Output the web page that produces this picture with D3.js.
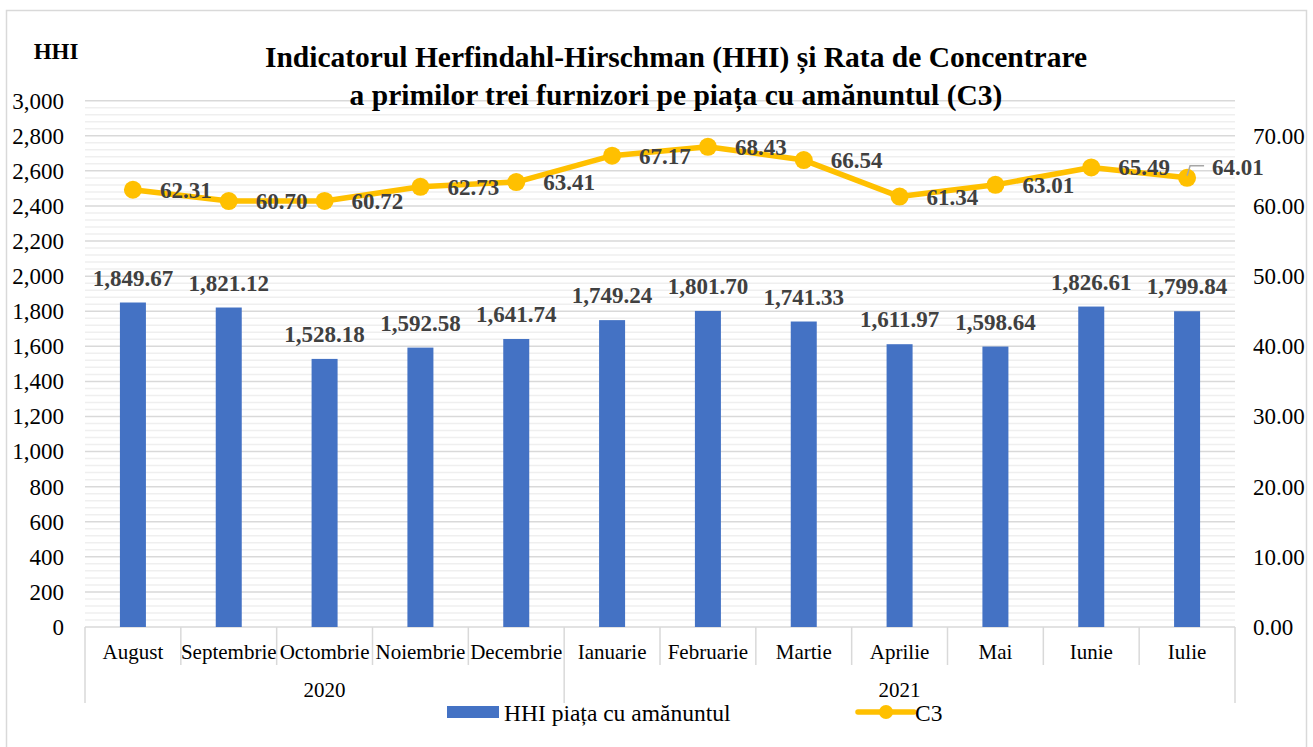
<!DOCTYPE html>
<html>
<head>
<meta charset="utf-8">
<script src="https://cdn.jsdelivr.net/npm/d3@7"></script>
<style>
  body { margin: 0; background: #fff; }
  svg text { font-family: "Liberation Serif", "Times New Roman", serif !important; }
</style>
</head>
<body>
<div id="cht_HHI"></div>
<script>
const months = ["August", "Septembrie", "Octombrie", "Noiembrie", "Decembrie", "Ianuarie",
  "Februarie", "Martie", "Aprilie", "Mai", "Iunie", "Iulie"];
const years = [
  { year: "2020", first: 0, last: 4 },
  { year: "2021", first: 5, last: 11 },
];
const hhiValues = [1849.67, 1821.12, 1528.18, 1592.58, 1641.74, 1749.24,
  1801.70, 1741.33, 1611.97, 1598.64, 1826.61, 1799.84];
const c3Values = [62.31, 60.70, 60.72, 62.73, 63.41, 67.17,
  68.43, 66.54, 61.34, 63.01, 65.49, 64.01];
const hhiTicks = d3.range(0, 3001, 200);
const c3Ticks = d3.range(0, 71, 10);

const width = 1313, height = 747;
const margin = { top: 100.7, right: 78, bottom: 120, left: 85 };
const plotBottom = 627;

const data = months.map((m, i) => ({ month: m, hhi: hhiValues[i], c3: c3Values[i] }));

var svg = d3
  .select("#cht_HHI")
  .append("svg")
  .attr("width", width)
  .attr("height", height);

// chart border
svg
  .append("rect")
  .attr("x", 6.5)
  .attr("y", 10.5)
  .attr("width", 1300)
  .attr("height", 740)
  .attr("fill", "#fff")
  .attr("stroke", "#d9d9d9")
  .attr("stroke-width", 1.5);

var x = d3
  .scaleBand()
  .domain(months)
  .range([margin.left, width - margin.right]);

var y = d3.scaleLinear().domain([0, 3000]).range([plotBottom, margin.top]);
var y2 = d3.scaleLinear().domain([0, 75]).range([plotBottom, margin.top]);

// minor gridlines every 40, major every 200
svg
  .append("g")
  .selectAll("line")
  .data(d3.range(40, 3001, 40).filter((v) => v % 200 !== 0))
  .enter()
  .append("line")
  .attr("x1", margin.left)
  .attr("x2", width - margin.right)
  .attr("y1", (d) => y(d))
  .attr("y2", (d) => y(d))
  .attr("stroke", "#efefef")
  .attr("stroke-width", 1.5);

svg
  .append("g")
  .selectAll("line")
  .data(hhiTicks.filter((v) => v > 0))
  .enter()
  .append("line")
  .attr("x1", margin.left)
  .attr("x2", width - margin.right)
  .attr("y1", (d) => y(d))
  .attr("y2", (d) => y(d))
  .attr("stroke", "#d9d9d9")
  .attr("stroke-width", 1.5);

// left axis
var yAxis = d3.axisLeft(y).tickValues(hhiTicks).tickFormat(d3.format(",")).tickSize(0).tickPadding(21);
svg
  .append("g")
  .attr("transform", `translate(${margin.left},0)`)
  .call(yAxis)
  .call((g) => g.select(".domain").remove())
  .selectAll("text")
  .attr("font-size", "23px")
  .attr("fill", "#000");

// right axis
var yAxisR = d3.axisRight(y2).tickValues(c3Ticks).tickFormat(d3.format(".2f")).tickSize(0).tickPadding(18);
svg
  .append("g")
  .attr("transform", `translate(${width - margin.right},0)`)
  .call(yAxisR)
  .call((g) => g.select(".domain").remove())
  .selectAll("text")
  .attr("font-size", "23px")
  .attr("fill", "#000");

svg
  .append("text")
  .attr("x", 56)
  .attr("y", 59)
  .attr("text-anchor", "middle")
  .attr("font-size", "23px")
  .attr("font-weight", "bold")
  .text("HHI");

// title
const title = svg
  .append("text")
  .attr("text-anchor", "middle")
  .attr("font-size", "29.5px")
  .attr("font-weight", "bold")
  .attr("fill", "#000");
title.append("tspan").attr("x", 676).attr("y", 67).text("Indicatorul Herfindahl-Hirschman (HHI) și Rata de Concentrare");
title.append("tspan").attr("x", 676).attr("y", 105).text("a primilor trei furnizori pe piața cu amănuntul (C3)");

// category axis (two levels)
const axisG = svg.append("g");
axisG
  .append("line")
  .attr("x1", margin.left)
  .attr("x2", width - margin.right)
  .attr("y1", plotBottom)
  .attr("y2", plotBottom)
  .attr("stroke", "#d9d9d9")
  .attr("stroke-width", 1.5);

const yearBounds = [0].concat(years.map((d) => d.last + 1));
axisG
  .selectAll(".sep")
  .data(d3.range(0, months.length + 1))
  .enter()
  .append("line")
  .attr("class", "sep")
  .attr("x1", (i) => margin.left + i * x.step())
  .attr("x2", (i) => margin.left + i * x.step())
  .attr("y1", plotBottom)
  .attr("y2", (i) => (yearBounds.includes(i) ? 703 : 665))
  .attr("stroke", "#d9d9d9")
  .attr("stroke-width", 1.5);

axisG
  .selectAll(".month-label")
  .data(months)
  .enter()
  .append("text")
  .attr("class", "month-label")
  .attr("x", (d) => x(d) + x.bandwidth() / 2)
  .attr("y", 659)
  .attr("text-anchor", "middle")
  .attr("font-size", "21px")
  .text((d) => d);

axisG
  .selectAll(".year-label")
  .data(years)
  .enter()
  .append("text")
  .attr("class", "year-label")
  .attr("x", (d) => (x(months[d.first]) + x(months[d.last]) + x.bandwidth()) / 2)
  .attr("y", 697)
  .attr("text-anchor", "middle")
  .attr("font-size", "21px")
  .text((d) => d.year);

// bars
const barW = 26;
svg
  .selectAll(".bar")
  .data(data)
  .enter()
  .append("rect")
  .attr("class", "bar")
  .attr("fill", "#4472C4")
  .attr("x", (d) => x(d.month) + x.bandwidth() / 2 - barW / 2)
  .attr("width", barW)
  .attr("y", (d) => y(d.hhi))
  .attr("height", (d) => plotBottom - y(d.hhi));

svg
  .selectAll(".val-label")
  .data(data)
  .enter()
  .append("text")
  .attr("class", "val-label")
  .attr("x", (d) => x(d.month) + x.bandwidth() / 2)
  .attr("y", (d) => y(d.hhi) - 17)
  .attr("text-anchor", "middle")
  .attr("font-size", "23px")
  .attr("font-weight", "bold")
  .attr("fill", "#404040")
  .text((d) => d3.format(",.2f")(d.hhi));

// C3 line
const cx = (d) => x(d.month) + x.bandwidth() / 2;
const line = d3
  .line()
  .x(cx)
  .y((d) => y2(d.c3));

svg
  .append("path")
  .datum(data)
  .attr("fill", "none")
  .attr("stroke", "#FFC000")
  .attr("stroke-width", 5.5)
  .attr("stroke-linejoin", "round")
  .attr("d", line);

svg
  .selectAll(".dot")
  .data(data)
  .enter()
  .append("circle")
  .attr("class", "dot")
  .attr("cx", cx)
  .attr("cy", (d) => y2(d.c3))
  .attr("r", 9)
  .attr("fill", "#FFC000");

// last label sits up and right with a leader line
const lastIdx = data.length - 1;
svg
  .selectAll(".c3-label")
  .data(data)
  .enter()
  .append("text")
  .attr("class", "c3-label")
  .attr("x", (d, i) => cx(d) + (i === lastIdx ? 25 : 27))
  .attr("y", (d, i) => y2(d.c3) + (i === lastIdx ? -3 : 8))
  .attr("font-size", "23px")
  .attr("font-weight", "bold")
  .attr("fill", "#404040")
  .text((d) => d3.format(".2f")(d.c3));

const last = data[lastIdx];
svg
  .append("polyline")
  .attr("points", `${cx(last)},${y2(last.c3) - 2} ${cx(last) + 3},${y2(last.c3) - 12} ${cx(last) + 17},${y2(last.c3) - 12}`)
  .attr("fill", "none")
  .attr("stroke", "#a6a6a6")
  .attr("stroke-width", 1.5);

// legend
const legend = svg.append("g");
legend
  .append("rect")
  .attr("x", 447)
  .attr("y", 706)
  .attr("width", 52)
  .attr("height", 12)
  .attr("fill", "#4472C4");
legend
  .append("text")
  .attr("x", 504)
  .attr("y", 721)
  .attr("font-size", "23.5px")
  .text("HHI piața cu amănuntul");
legend
  .append("line")
  .attr("x1", 858)
  .attr("x2", 914)
  .attr("y1", 712)
  .attr("y2", 712)
  .attr("stroke", "#FFC000")
  .attr("stroke-width", 5.5)
  .attr("stroke-linecap", "round");
legend
  .append("circle")
  .attr("cx", 886)
  .attr("cy", 712)
  .attr("r", 7)
  .attr("fill", "#FFC000");
legend
  .append("text")
  .attr("x", 915)
  .attr("y", 721)
  .attr("font-size", "23.5px")
  .text("C3");
</script>
</body>
</html>
